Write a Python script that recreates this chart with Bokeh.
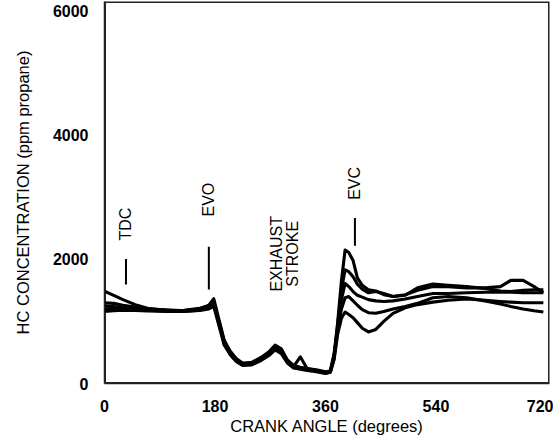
import math
from bokeh.plotting import figure
from bokeh.models import FixedTicker, Range1d
from bokeh.core.properties import value
from bokeh.embed import file_html
from bokeh.resources import INLINE

# Crank angle grid (degrees)
crank = [0, 15, 30, 50, 70, 100, 130, 155, 170, 178,
         186, 195, 205, 215, 225, 240, 255, 268, 278, 288,
         298, 308, 319, 330, 345, 360, 368, 374, 380, 386,
         392, 398, 405, 412, 420, 430, 442, 455, 470, 490,
         510, 535, 560, 590, 620, 645, 662, 682, 700, 715]

# HC concentration traces (ppm propane)
hc_a = [1485, 1420, 1350, 1270, 1210, 1180, 1175, 1200, 1260, 1365,
        1050, 700, 500, 380, 310, 320, 410, 500, 600, 520,
        340, 260, 240, 220, 200, 170, 200, 420, 1000, 1650,
        2150, 2110, 1980, 1700, 1580, 1510, 1490, 1430, 1400, 1430,
        1500, 1560, 1560, 1540, 1540, 1560, 1660, 1660, 1560, 1460]
hc_b = [1300, 1290, 1260, 1230, 1200, 1185, 1170, 1190, 1240, 1310,
        1000, 660, 470, 360, 300, 310, 380, 470, 560, 500,
        360, 270, 430, 240, 210, 180, 210, 480, 950, 1500,
        1830, 1800, 1720, 1600, 1520, 1460, 1480, 1450, 1400, 1420,
        1540, 1600, 1580, 1560, 1530, 1490, 1480, 1500, 1510, 1510]
hc_c = [1250, 1240, 1220, 1200, 1185, 1175, 1180, 1210, 1250, 1290,
        980, 640, 480, 370, 320, 340, 420, 510, 620, 560,
        380, 290, 260, 240, 220, 190, 190, 450, 900, 1350,
        1610, 1560, 1480, 1420, 1390, 1350, 1330, 1320, 1330, 1360,
        1400, 1450, 1450, 1460, 1470, 1470, 1470, 1460, 1460, 1460]
hc_d = [1200, 1210, 1200, 1190, 1180, 1170, 1165, 1180, 1220, 1260,
        1020, 680, 520, 400, 330, 330, 400, 480, 570, 540,
        350, 280, 250, 230, 200, 170, 190, 400, 880, 1200,
        1380, 1400, 1330, 1260, 1190, 1140, 1130, 1160, 1200, 1240,
        1290, 1380, 1400, 1380, 1330, 1280, 1240, 1200, 1170, 1150]
hc_e = [1160, 1170, 1180, 1175, 1170, 1160, 1160, 1175, 1200, 1240,
        950, 620, 460, 350, 290, 300, 370, 450, 540, 480,
        330, 250, 230, 210, 190, 160, 180, 380, 800, 1050,
        1150, 1110, 1060, 980, 890, 830, 870, 1000, 1130, 1220,
        1270, 1310, 1340, 1360, 1340, 1320, 1310, 1300, 1300, 1300]
traces = [hc_a, hc_b, hc_c, hc_d, hc_e]

x_ticks = [0, 180, 360, 540, 720]
y_ticks = [0, 2000, 4000, 6000]

# Event annotations: label, crank angle, label height, marker bottom, marker top
events = ["TDC", "EVO", "EVC"]
event_x = [35, 170, 408]
event_label_y = [2565, 2960, 3222]
event_bar_lo = [1595, 1512, 2219]
event_bar_hi = [2005, 2203, 2663]
stroke_lines = ["EXHAUST", "STROKE"]
stroke_x = [280, 306]
stroke_y = [2088, 2088]

FONT = "Liberation Sans"
FRAME = "#222222"

x_rng = Range1d(0, 725)
y_rng = Range1d(0, 6150)

p = figure(width=553, height=438, output_backend="svg", toolbar_location=None,
           x_range=x_rng, y_range=y_rng,
           min_border_left=104, min_border_right=4, min_border_top=1,
           min_border_bottom=55)
p.background_fill_color = "white"
p.border_fill_color = "white"
p.outline_line_color = None
p.xgrid.grid_line_color = None
p.ygrid.grid_line_color = None

xa = p.below[0]
ya = p.left[0]
for ax in (xa, ya):
    ax.axis_line_color = FRAME
    ax.axis_line_width = 1.5
    ax.major_tick_line_color = None
    ax.minor_tick_line_color = None
    ax.major_label_text_font = FONT
    ax.major_label_text_font_size = "16px"
    ax.major_label_text_font_style = "bold"
    ax.major_label_text_color = "black"
    ax.axis_label_text_font = FONT
    ax.axis_label_text_font_size = "16.5px"
    ax.axis_label_text_font_style = "normal"
    ax.axis_label_text_color = "black"

xa.ticker = FixedTicker(ticks=x_ticks)
ya.ticker = FixedTicker(ticks=y_ticks)
xa.axis_label = "CRANK ANGLE (degrees)"
ya.axis_label = "HC CONCENTRATION (ppm propane)"
xa.major_label_standoff = 10
xa.axis_label_standoff = 2
ya.major_label_standoff = 10
ya.axis_label_standoff = 18

# frame border: an unfilled box spanning the full ranges (half of the stroke
# is clipped at the frame edge, leaving a ~1.5px line)
p.quad(left=[x_rng.start], right=[x_rng.end], bottom=[y_rng.start],
       top=[y_rng.end], fill_color=None, line_color=FRAME, line_width=3)

for tr in traces:
    p.line(crank, tr, line_color="black", line_width=3.1, line_join="round")

p.segment(x0=event_x, y0=event_bar_lo, x1=event_x, y1=event_bar_hi,
          line_color="black", line_width=2)
p.text(x=event_x, y=event_label_y, text=events, angle=math.pi / 2,
       text_align="center", text_baseline="middle",
       text_font=value(FONT), text_font_size="16px", text_color="black")
p.text(x=stroke_x, y=stroke_y, text=stroke_lines, angle=math.pi / 2,
       text_align="center", text_baseline="middle",
       text_font=value(FONT), text_font_size="16px", text_color="black")

open("out.html", "w").write(file_html(p, INLINE))
